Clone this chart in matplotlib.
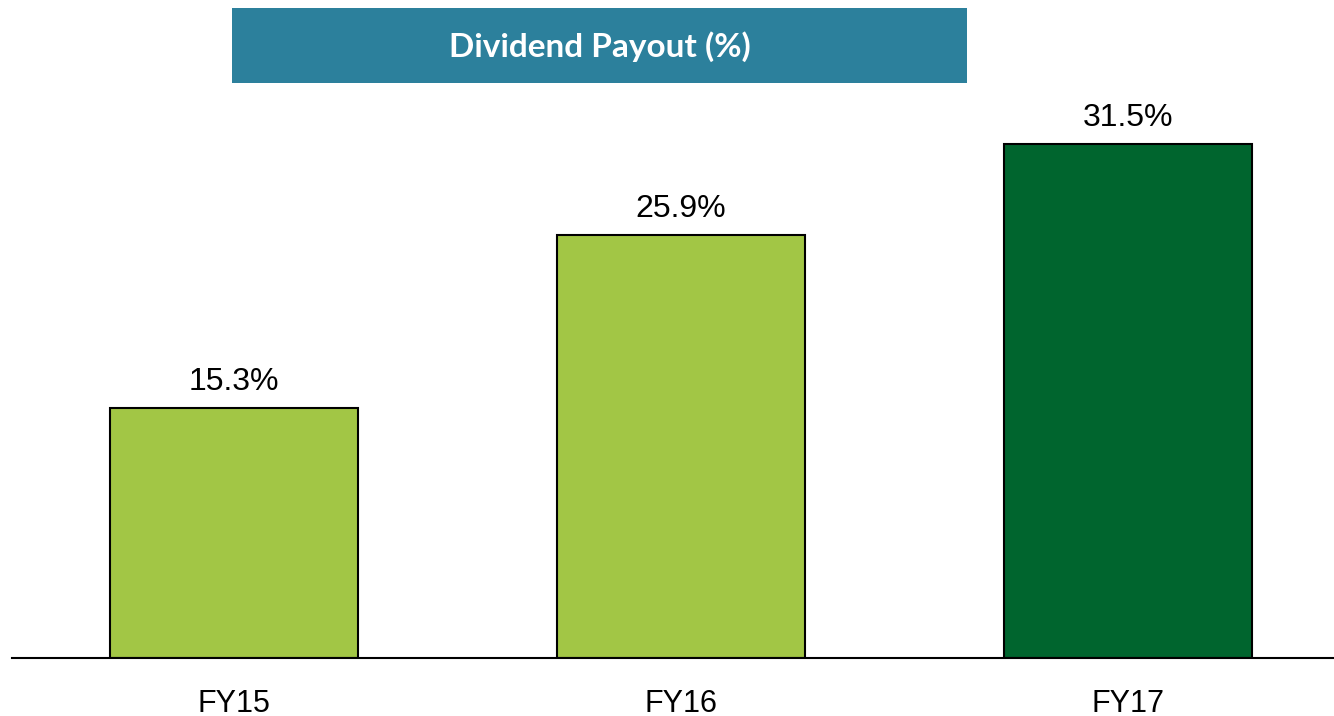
#!/usr/bin/env python3

'''
dividend payout bar chart, three fiscal years
'''

import matplotlib
matplotlib.use('Agg')
import matplotlib.pyplot as plt
from matplotlib.patches import Rectangle

YEARS = ['FY15', 'FY16', 'FY17']
PAYOUT = [15.3, 25.9, 31.5]
BAR_COLORS = ['#A2C645', '#A2C645', '#00652E']
TITLE = 'Dividend Payout (%)'

plt.rcParams['font.family'] = ['Liberation Sans', 'DejaVu Sans']

fig = plt.figure(figsize=(13.34, 7.16), dpi=100)

# title banner across the top
fig.patches.append(Rectangle((232 / 1334, 1 - 83 / 716), 735 / 1334, 75 / 716,
                             transform=fig.transFigure, facecolor='#2C809C',
                             edgecolor='none'))
fig.text(600 / 1334, 1 - 47 / 716, TITLE, color='white', fontsize=24,
         fontweight='bold', ha='center', va='center', family=['Lato', 'DejaVu Sans'])

ax = fig.add_axes([12 / 1334, 58 / 716, 1322 / 1334, 558 / 716])
x = range(len(YEARS))
bars = ax.bar(x, PAYOUT, width=0.555, color=BAR_COLORS, edgecolor='black',
              linewidth=1.5)
for rect, val in zip(bars, PAYOUT):
    ax.annotate(f'{val:.1f}%', (rect.get_x() + rect.get_width() / 2, val),
                xytext=(0, 8), textcoords='offset points', ha='center',
                va='bottom', fontsize=23)

ax.set_xlim(-0.497, 2.462)
ax.set_ylim(0, 34.19)
ax.set_xticks(list(x))
ax.set_xticklabels(YEARS, fontsize=22)
ax.tick_params(axis='x', length=0, pad=22)
ax.set_yticks([])
for side in ['top', 'right', 'left']:
    ax.spines[side].set_visible(False)
ax.spines['bottom'].set_linewidth(1.5)

fig.savefig('out.png', dpi=100)
